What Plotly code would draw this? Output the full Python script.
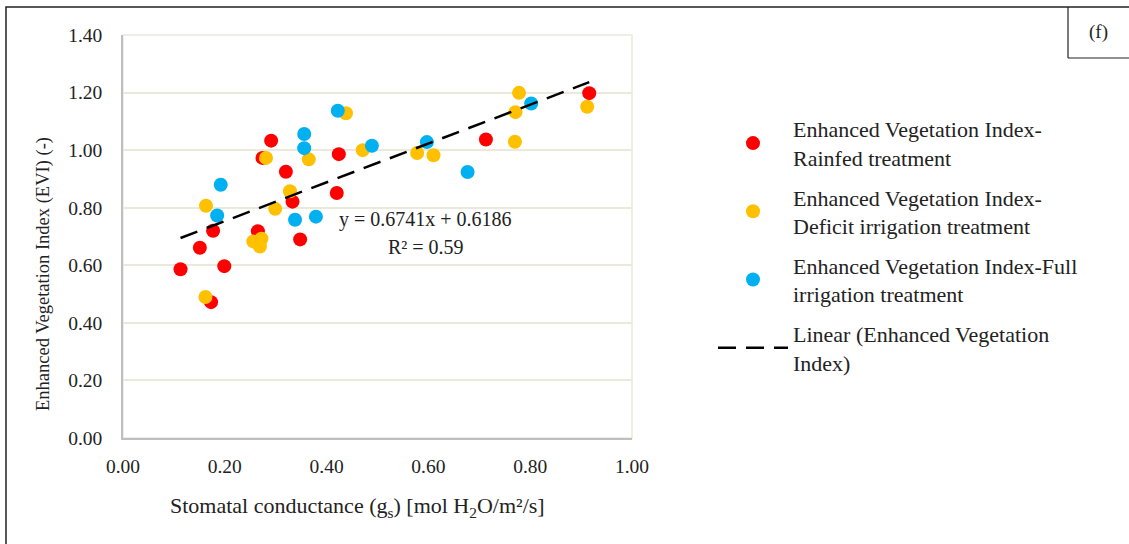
import plotly.graph_objects as go

# Data
rain_x = [0.113, 0.151, 0.199, 0.173, 0.177, 0.265, 0.274, 0.291, 0.320, 0.333, 0.348, 0.420, 0.424, 0.713, 0.916]
rain_y = [0.586, 0.661, 0.597, 0.472, 0.720, 0.718, 0.973, 1.033, 0.925, 0.821, 0.690, 0.851, 0.986, 1.037, 1.198]

deficit_x = [0.162, 0.163, 0.256, 0.272, 0.269, 0.281, 0.299, 0.328, 0.365, 0.438, 0.471, 0.578, 0.610, 0.770, 0.771, 0.778, 0.912]
deficit_y = [0.490, 0.807, 0.683, 0.692, 0.665, 0.973, 0.796, 0.857, 0.968, 1.128, 1.000, 0.990, 0.982, 1.029, 1.132, 1.199, 1.151]

full_x = [0.185, 0.192, 0.338, 0.356, 0.356, 0.379, 0.422, 0.489, 0.597, 0.677, 0.802]
full_y = [0.773, 0.880, 0.758, 1.056, 1.007, 0.769, 1.137, 1.015, 1.028, 0.924, 1.162]

slope = 0.6741
intercept = 0.6186
r2 = 0.59

x_ticks = [0.0, 0.2, 0.4, 0.6, 0.8, 1.0]
y_ticks = [0.0, 0.2, 0.4, 0.6, 0.8, 1.0, 1.2, 1.4]

FONT = "Liberation Serif"
TXT = "#222222"
RED = "#ff0000"
YEL = "#ffc000"
BLU = "#00b0f0"
GRID = "#ebe8dc"

all_x = rain_x + deficit_x + full_x
line_x = [min(all_x), max(all_x)]
line_y = [slope * v + intercept for v in line_x]

fig = go.Figure()
fig.add_trace(go.Scatter(x=rain_x, y=rain_y, mode="markers", legendgroup="a",
                         name="Enhanced Vegetation Index-<br>Rainfed treatment",
                         marker=dict(color=RED, size=14)))
fig.add_trace(go.Scatter(x=deficit_x, y=deficit_y, mode="markers", legendgroup="b",
                         name="Enhanced Vegetation Index-<br>Deficit irrigation treatment",
                         marker=dict(color=YEL, size=14)))
fig.add_trace(go.Scatter(x=full_x, y=full_y, mode="markers", legendgroup="c",
                         name="Enhanced Vegetation Index-Full<br>irrigation treatment",
                         marker=dict(color=BLU, size=14)))
fig.add_trace(go.Scatter(x=line_x, y=line_y, mode="lines", legendgroup="d",
                         name="Linear (Enhanced Vegetation<br>Index)",
                         line=dict(color="black", width=2.5, dash="18px,10px")))

L, R, T, B = 123, 632, 35, 438
W, H = 1129, 544


def px(xp):
    return (xp - L) / (R - L)


def py(yp):
    return (B - yp) / (B - T)


def note(x, y, text, size, xref="paper", yref="paper", angle=0):
    fig.add_annotation(x=x, y=y, xref=xref, yref=yref, text=text, showarrow=False,
                       xanchor="center", yanchor="middle", textangle=angle,
                       font=dict(family=FONT, size=size, color=TXT))


note(0.595, 0.759, f"y = {slope}x + {intercept}", 20, "x", "y")
note(0.595, 0.662, f"R² = {r2}", 20, "x", "y")
note(px(357), py(507), "Stomatal conductance (g<sub>s</sub>) [mol H<sub>2</sub>O/m²/s]", 22)
note(px(43), py(274), "Enhanced Vegetation Index (EVI) (-)", 18.5, angle=-90)
note(px(1098), py(32), "(f)", 19)

# outer frame and (f) box
fig.add_shape(type="rect", xref="paper", yref="paper",
              x0=px(6), x1=px(1140), y0=py(560), y1=py(7),
              line=dict(color="#222", width=1.5))
fig.add_shape(type="line", xref="paper", yref="paper",
              x0=px(1068), x1=px(1068), y0=py(7), y1=py(58), line=dict(color="#222", width=1.2))
fig.add_shape(type="line", xref="paper", yref="paper",
              x0=px(1068), x1=px(1140), y0=py(58), y1=py(58), line=dict(color="#222", width=1.2))
# plot-area border (top/right)
fig.add_shape(type="rect", xref="paper", yref="paper", x0=0, x1=1, y0=0, y1=1,
              line=dict(color=GRID, width=1.5), layer="below")

fig.update_layout(
    width=W, height=H,
    margin=dict(l=L, r=W - R, t=T, b=H - B),
    paper_bgcolor="white", plot_bgcolor="white",
    font=dict(family=FONT, size=19, color=TXT),
    showlegend=True,
    legend=dict(x=px(713), y=py(108), xanchor="left", yanchor="top",
                font=dict(family=FONT, size=22, color=TXT),
                tracegroupgap=8, itemwidth=70, bgcolor="rgba(0,0,0,0)"),
)
fig.update_xaxes(range=[0, 1.0], tickvals=x_ticks, ticktext=[f"{v:.2f}" for v in x_ticks],
                 showgrid=False, zeroline=False, showline=True, linecolor="#bfbfbf", linewidth=1.5,
                 ticks="", ticklabelstandoff=10, tickfont=dict(size=19.5))
fig.update_yaxes(range=[0, 1.4], tickvals=y_ticks, ticktext=[f"{v:.2f}" for v in y_ticks],
                 showgrid=True, gridcolor=GRID, gridwidth=1.5, zeroline=False,
                 showline=True, linecolor="#bfbfbf", linewidth=1.5, ticks="", ticklabelstandoff=15,
                 tickfont=dict(size=19.5))

fig.write_html("out.html", config={"displayModeBar": False},
               post_script="document.body.style.margin='0';")
